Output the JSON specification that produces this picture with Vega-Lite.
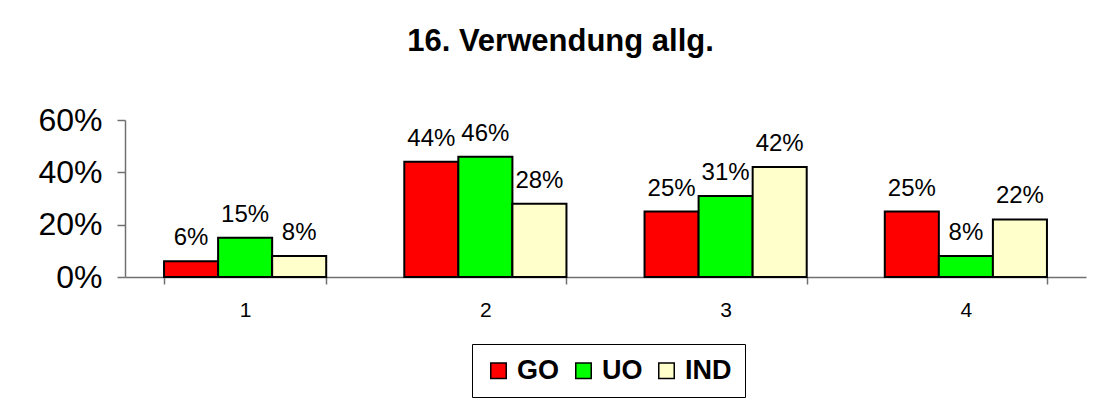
{
  "$schema": "https://vega.github.io/schema/vega-lite/v6.json",
  "autosize": {"type": "none"},
  "padding": {"left": 125, "top": 120, "right": 16, "bottom": 127},
  "width": 961,
  "height": 157,
  "background": "white",
  "config": {
    "font": "Liberation Sans",
    "view": {"stroke": null}
  },
  "title": {
    "text": "16. Verwendung allg.",
    "fontSize": 31,
    "fontWeight": "bold",
    "font": "Liberation Sans",
    "color": "black",
    "anchor": "middle",
    "frame": "group",
    "dx": -45,
    "offset": 46
  },
  "data": {
    "values": [
      {"kategorie": "1", "gruppe": "GO", "wert": 0.06},
      {"kategorie": "1", "gruppe": "UO", "wert": 0.15},
      {"kategorie": "1", "gruppe": "IND", "wert": 0.08},
      {"kategorie": "2", "gruppe": "GO", "wert": 0.44},
      {"kategorie": "2", "gruppe": "UO", "wert": 0.46},
      {"kategorie": "2", "gruppe": "IND", "wert": 0.28},
      {"kategorie": "3", "gruppe": "GO", "wert": 0.25},
      {"kategorie": "3", "gruppe": "UO", "wert": 0.31},
      {"kategorie": "3", "gruppe": "IND", "wert": 0.42},
      {"kategorie": "4", "gruppe": "GO", "wert": 0.25},
      {"kategorie": "4", "gruppe": "UO", "wert": 0.08},
      {"kategorie": "4", "gruppe": "IND", "wert": 0.22}
    ]
  },
  "encoding": {
    "x": {
      "field": "kategorie",
      "type": "nominal",
      "scale": {"paddingInner": 0.325, "paddingOuter": 0.1625},
      "axis": {
        "title": null,
        "labelAngle": 0,
        "labelFontSize": 21,
        "labelColor": "black",
        "labelPadding": 15,
        "tickBand": "extent",
        "tickSize": 7,
        "tickColor": "#707070",
        "domainColor": "#707070",
        "tickWidth": 1.5,
        "domainWidth": 1.5
      }
    },
    "xOffset": {"field": "gruppe", "type": "nominal", "sort": ["GO", "UO", "IND"]},
    "y": {
      "field": "wert",
      "type": "quantitative",
      "scale": {"domain": [0, 0.6], "nice": false},
      "axis": {
        "title": null,
        "values": [0, 0.2, 0.4, 0.6],
        "format": ".0%",
        "grid": false,
        "labelFontSize": 32,
        "labelColor": "black",
        "labelPadding": 15,
        "tickSize": 8,
        "tickColor": "#707070",
        "domainColor": "#707070",
        "tickWidth": 1.5,
        "domainWidth": 1.5
      }
    }
  },
  "layer": [
    {
      "mark": {"type": "bar", "stroke": "black", "strokeWidth": 2},
      "encoding": {
        "color": {
          "field": "gruppe",
          "type": "nominal",
          "sort": ["GO", "UO", "IND"],
          "scale": {"domain": ["GO", "UO", "IND"], "range": ["#FF0000", "#00FF00", "#FFFFCC"]},
          "legend": {
            "title": null,
            "orient": "none",
            "direction": "horizontal",
            "legendX": 347,
            "legendY": 224,
            "padding": 13,
            "strokeColor": "black",
            "fillColor": "white",
            "symbolType": "square",
            "symbolSize": 240,
            "symbolStrokeColor": "black",
            "symbolStrokeWidth": 1.5,
            "symbolOpacity": 1,
            "labelFontSize": 27,
            "labelFontWeight": "bold",
            "labelColor": "black",
            "labelOffset": 5,
            "columnPadding": 10,
            "labelLimit": 200
          }
        }
      }
    },
    {
      "mark": {"type": "text", "fontSize": 24, "color": "black", "baseline": "alphabetic", "dy": -16},
      "encoding": {
        "text": {"field": "wert", "type": "quantitative", "format": ".0%"}
      }
    }
  ]
}
